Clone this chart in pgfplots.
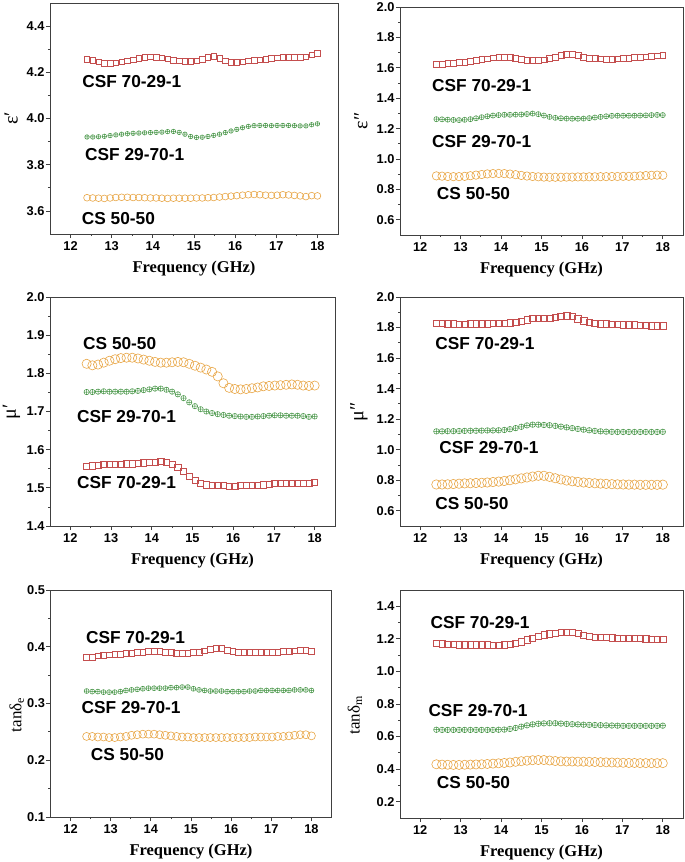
\documentclass[border=0pt]{standalone}
\usepackage{fontspec}
\setmainfont{Liberation Sans}
\newfontfamily\timesf{Liberation Serif}
\usepackage{pgfplots}
\usepackage{pgfplotstable}
\pgfplotsset{compat=1.18}

\definecolor{cred}{RGB}{196,78,78}
\definecolor{cgreen}{RGB}{68,148,68}
\definecolor{corange}{RGB}{232,166,70}

% columns: x, CSF 70-29-1 (r), CSF 29-70-1 (g), CS 50-50 (o)
\pgfplotstableread{
x r g o
12.40 4.256 3.920 3.657
12.54 4.252 3.920 3.656
12.68 4.246 3.921 3.655
12.82 4.240 3.923 3.654
12.96 4.240 3.926 3.656
13.10 4.241 3.929 3.658
13.24 4.245 3.932 3.659
13.38 4.250 3.934 3.659
13.52 4.254 3.936 3.658
13.66 4.260 3.937 3.658
13.80 4.265 3.938 3.657
13.94 4.267 3.939 3.656
14.08 4.266 3.940 3.656
14.22 4.262 3.941 3.655
14.36 4.258 3.943 3.654
14.50 4.253 3.944 3.655
14.64 4.249 3.940 3.655
14.78 4.247 3.932 3.655
14.92 4.248 3.922 3.655
15.06 4.251 3.918 3.656
15.20 4.257 3.919 3.656
15.34 4.265 3.922 3.657
15.48 4.270 3.927 3.658
15.62 4.261 3.932 3.660
15.76 4.250 3.939 3.662
15.90 4.243 3.946 3.664
16.04 4.243 3.953 3.666
16.18 4.246 3.960 3.668
16.32 4.249 3.966 3.670
16.46 4.252 3.969 3.671
16.60 4.255 3.970 3.670
16.74 4.257 3.970 3.668
16.88 4.260 3.969 3.667
17.02 4.263 3.970 3.668
17.16 4.266 3.970 3.670
17.30 4.266 3.970 3.669
17.44 4.266 3.969 3.667
17.58 4.265 3.968 3.665
17.72 4.267 3.968 3.662
17.86 4.276 3.973 3.666
18.00 4.282 3.977 3.665
}\epsr

\pgfplotstableread{
x r g o
12.40 1.624 1.262 0.889
12.54 1.626 1.261 0.887
12.68 1.628 1.259 0.885
12.82 1.631 1.257 0.884
12.96 1.635 1.256 0.884
13.10 1.639 1.258 0.886
13.24 1.644 1.262 0.890
13.38 1.649 1.268 0.894
13.52 1.654 1.275 0.898
13.66 1.660 1.281 0.902
13.80 1.666 1.286 0.904
13.94 1.670 1.289 0.905
14.08 1.671 1.291 0.904
14.22 1.669 1.291 0.901
14.36 1.664 1.292 0.897
14.50 1.658 1.293 0.892
14.64 1.652 1.296 0.888
14.78 1.649 1.299 0.885
14.92 1.649 1.295 0.883
15.06 1.653 1.286 0.881
15.20 1.661 1.277 0.880
15.34 1.671 1.271 0.880
15.48 1.681 1.268 0.880
15.62 1.688 1.266 0.881
15.76 1.690 1.265 0.881
15.90 1.683 1.265 0.882
16.04 1.672 1.266 0.882
16.18 1.665 1.269 0.883
16.32 1.662 1.273 0.883
16.46 1.660 1.277 0.884
16.60 1.658 1.281 0.884
16.74 1.658 1.284 0.885
16.88 1.659 1.285 0.885
17.02 1.662 1.285 0.886
17.16 1.665 1.285 0.886
17.30 1.668 1.285 0.887
17.44 1.671 1.286 0.889
17.58 1.673 1.287 0.891
17.72 1.676 1.289 0.893
17.86 1.679 1.290 0.894
18.00 1.680 1.289 0.893
}\epsi

\pgfplotstableread{
x r g o
12.40 1.557 1.751 1.825
12.54 1.558 1.751 1.821
12.68 1.560 1.752 1.823
12.82 1.561 1.753 1.828
12.96 1.561 1.752 1.833
13.10 1.561 1.752 1.837
13.24 1.562 1.752 1.840
13.38 1.563 1.752 1.841
13.52 1.563 1.753 1.841
13.66 1.564 1.754 1.839
13.80 1.566 1.756 1.836
13.94 1.568 1.758 1.833
14.08 1.568 1.760 1.830
14.22 1.569 1.760 1.828
14.36 1.567 1.757 1.828
14.50 1.562 1.752 1.829
14.64 1.555 1.745 1.830
14.78 1.544 1.735 1.829
14.92 1.531 1.724 1.825
15.06 1.519 1.714 1.820
15.20 1.511 1.706 1.815
15.34 1.508 1.700 1.810
15.48 1.507 1.696 1.804
15.62 1.506 1.693 1.792
15.76 1.506 1.691 1.774
15.90 1.505 1.689 1.762
16.04 1.505 1.688 1.759
16.18 1.506 1.687 1.758
16.32 1.506 1.686 1.759
16.46 1.507 1.686 1.761
16.60 1.507 1.687 1.763
16.74 1.508 1.688 1.766
16.88 1.510 1.689 1.767
17.02 1.511 1.690 1.768
17.16 1.511 1.690 1.769
17.30 1.511 1.689 1.770
17.44 1.512 1.689 1.771
17.58 1.513 1.689 1.770
17.72 1.513 1.688 1.768
17.86 1.512 1.686 1.767
18.00 1.514 1.687 1.768
}\mur

\pgfplotstableread{
x r g o
12.40 1.829 1.120 0.772
12.54 1.828 1.120 0.772
12.68 1.826 1.121 0.773
12.82 1.824 1.121 0.775
12.96 1.823 1.122 0.777
13.10 1.823 1.123 0.779
13.24 1.824 1.124 0.780
13.38 1.825 1.124 0.782
13.52 1.826 1.125 0.783
13.66 1.826 1.126 0.785
13.80 1.827 1.126 0.788
13.94 1.828 1.127 0.791
14.08 1.829 1.129 0.795
14.22 1.831 1.134 0.800
14.36 1.836 1.141 0.806
14.50 1.843 1.150 0.812
14.64 1.852 1.159 0.818
14.78 1.859 1.164 0.824
14.92 1.862 1.164 0.829
15.06 1.862 1.162 0.829
15.20 1.862 1.160 0.822
15.34 1.866 1.156 0.813
15.48 1.873 1.151 0.805
15.62 1.877 1.146 0.798
15.76 1.873 1.141 0.793
15.90 1.858 1.136 0.789
16.04 1.844 1.131 0.785
16.18 1.835 1.127 0.782
16.32 1.829 1.123 0.780
16.46 1.826 1.120 0.778
16.60 1.824 1.118 0.776
16.74 1.822 1.117 0.774
16.88 1.820 1.116 0.773
17.02 1.819 1.116 0.772
17.16 1.818 1.116 0.771
17.30 1.817 1.116 0.771
17.44 1.815 1.116 0.770
17.58 1.814 1.116 0.770
17.72 1.813 1.116 0.770
17.86 1.812 1.116 0.770
18.00 1.811 1.117 0.771
}\mui

\pgfplotstableread{
x r g o
12.40 0.381 0.322 0.242
12.54 0.382 0.321 0.242
12.68 0.384 0.321 0.241
12.82 0.385 0.320 0.241
12.96 0.386 0.320 0.240
13.10 0.387 0.320 0.240
13.24 0.387 0.321 0.241
13.38 0.388 0.323 0.242
13.52 0.389 0.324 0.244
13.66 0.390 0.325 0.245
13.80 0.391 0.326 0.246
13.94 0.392 0.327 0.246
14.08 0.392 0.327 0.246
14.22 0.392 0.327 0.245
14.36 0.391 0.327 0.244
14.50 0.390 0.328 0.243
14.64 0.389 0.328 0.242
14.78 0.389 0.329 0.241
14.92 0.389 0.329 0.241
15.06 0.390 0.326 0.240
15.20 0.391 0.324 0.240
15.34 0.393 0.323 0.240
15.48 0.395 0.322 0.240
15.62 0.397 0.322 0.240
15.76 0.397 0.322 0.240
15.90 0.394 0.321 0.240
16.04 0.392 0.321 0.240
16.18 0.391 0.321 0.240
16.32 0.391 0.321 0.240
16.46 0.390 0.322 0.240
16.60 0.390 0.322 0.241
16.74 0.390 0.323 0.241
16.88 0.390 0.323 0.241
17.02 0.391 0.323 0.241
17.16 0.391 0.323 0.242
17.30 0.392 0.323 0.242
17.44 0.392 0.323 0.243
17.58 0.393 0.324 0.244
17.72 0.394 0.324 0.245
17.86 0.394 0.324 0.245
18.00 0.392 0.323 0.243
}\tde

\pgfplotstableread{
x r g o
12.40 1.174 0.642 0.430
12.54 1.170 0.641 0.428
12.68 1.167 0.641 0.427
12.82 1.165 0.641 0.426
12.96 1.164 0.641 0.426
13.10 1.164 0.641 0.427
13.24 1.164 0.641 0.428
13.38 1.164 0.641 0.429
13.52 1.164 0.641 0.430
13.66 1.164 0.641 0.432
13.80 1.163 0.641 0.434
13.94 1.163 0.642 0.436
14.08 1.164 0.643 0.438
14.22 1.166 0.647 0.441
14.36 1.172 0.653 0.445
14.50 1.182 0.661 0.449
14.64 1.194 0.669 0.452
14.78 1.206 0.675 0.455
14.92 1.216 0.679 0.456
15.06 1.225 0.681 0.456
15.20 1.231 0.682 0.453
15.34 1.236 0.682 0.450
15.48 1.240 0.680 0.448
15.62 1.242 0.678 0.447
15.76 1.240 0.676 0.447
15.90 1.233 0.675 0.446
16.04 1.223 0.673 0.446
16.18 1.216 0.672 0.445
16.32 1.212 0.671 0.444
16.46 1.210 0.670 0.443
16.60 1.208 0.669 0.442
16.74 1.207 0.668 0.441
16.88 1.206 0.667 0.440
17.02 1.205 0.666 0.439
17.16 1.204 0.666 0.438
17.30 1.203 0.666 0.438
17.44 1.202 0.666 0.437
17.58 1.201 0.666 0.437
17.72 1.200 0.666 0.437
17.86 1.200 0.666 0.437
18.00 1.199 0.667 0.437
}\tdm

\pgfplotsset{
  panel/.style={
    scale only axis,
    xmin=11.5, xmax=18.5,
    xtick={12,13,14,15,16,17,18},
    minor x tick num=1, minor y tick num=1,
    tick align=outside, tick pos=left,
    major tick length=4pt, minor tick length=2pt,
    axis line style={line width=0.8pt, black!75},
    tick style={line width=0.8pt, black!75},
    ticklabel style={font=\bfseries\fontsize{12.8}{14}\selectfont},
    /pgf/number format/assume math mode=true,
    yticklabel style={/pgf/number format/fixed, /pgf/number format/precision=1,
      /pgf/number format/fixed zerofill, xshift=2pt},
    xticklabel style={yshift=-0.5pt},
    xlabel={Frequency (GHz)},
    every axis x label/.style={at={(axis description cs:0.5,0)}, anchor=center,
      yshift=-35pt, font=\timesf\bfseries\fontsize{16.5}{18}\selectfont},
    every axis y label/.style={at={(axis description cs:-0.135,0.5)}, rotate=90,
      anchor=center, font=\timesf\fontsize{20}{22}\selectfont},
    clip=false,
  },
  sr/.style={only marks, mark=square, color=cred, mark size=2.9pt, mark options={line width=0.5pt}},
  sg/.style={only marks, mark=oplus, color=cgreen, mark size=2.6pt, mark options={line width=0.5pt}},
  so/.style={only marks, mark=o, color=corange, mark size=4.2pt, mark options={line width=0.6pt}},
}
\tikzset{lab/.style={anchor=west, font=\bfseries\fontsize{17.3}{19}\selectfont, inner sep=0pt}}

\begin{document}
\begin{tikzpicture}
\path[use as bounding box] (0pt,0pt) rectangle (685pt,-862pt);

% panel 1: eps'
\begin{axis}[panel, at={(50pt,-234pt)}, anchor=south west, width=288pt, height=231pt,
  ymin=3.5, ymax=4.5, ytick={3.6,3.8,4.0,4.2,4.4}, ylabel={ε′}]
\addplot[sr, mark size=2.7pt] table[x=x,y=r] {\epsr};
\addplot[sg, mark size=2.3pt] table[x=x,y=g] {\epsr};
\addplot[so, mark size=3.4pt] table[x=x,y=o] {\epsr};
\node[lab] at (axis cs:12.28,4.158) {CSF 70-29-1};
\node[lab] at (axis cs:12.35,3.846) {CSF 29-70-1};
\node[lab] at (axis cs:12.27,3.568) {CS 50-50};
\end{axis}

% panel 2: eps''
\begin{axis}[panel, at={(400pt,-235pt)}, anchor=south west, width=283pt, height=228pt,
  ymin=0.5, ymax=2.0, ytick={0.6,0.8,1.0,1.2,1.4,1.6,1.8,2.0}, ylabel={ε″},
  every axis y label/.append style={at={(axis description cs:-0.138,0.5)}}]
\addplot[sr] table[x=x,y=r] {\epsi};
\addplot[sg] table[x=x,y=g] {\epsi};
\addplot[so] table[x=x,y=o] {\epsi};
\node[lab] at (axis cs:12.29,1.482) {CSF 70-29-1};
\node[lab] at (axis cs:12.29,1.116) {CSF 29-70-1};
\node[lab] at (axis cs:12.41,0.772) {CS 50-50};
\end{axis}

% panel 3: mu'
\begin{axis}[panel, at={(50pt,-526pt)}, anchor=south west, width=285pt, height=229pt,
  ymin=1.4, ymax=2.0, ytick={1.4,1.5,1.6,1.7,1.8,1.9,2.0}, ylabel={μ′}]
\addplot[sr, mark size=3.1pt] table[x=x,y=r] {\mur};
\addplot[sg, mark size=2.7pt] table[x=x,y=g] {\mur};
\addplot[so, mark size=4.6pt] table[x=x,y=o] {\mur};
\node[lab] at (axis cs:12.31,1.877) {CS 50-50};
\node[lab] at (axis cs:12.16,1.688) {CSF 29-70-1};
\node[lab] at (axis cs:12.16,1.513) {CSF 70-29-1};
\end{axis}

% panel 4: mu''
\begin{axis}[panel, at={(400pt,-526pt)}, anchor=south west, width=283pt, height=229pt,
  ymin=0.5, ymax=2.0, ytick={0.6,0.8,1.0,1.2,1.4,1.6,1.8,2.0}, ylabel={μ″},
  every axis y label/.append style={at={(axis description cs:-0.145,0.5)}}]
\addplot[sr, mark size=3.2pt] table[x=x,y=r] {\mui};
\addplot[sg, mark size=2.8pt] table[x=x,y=g] {\mui};
\addplot[so, mark size=4.7pt] table[x=x,y=o] {\mui};
\node[lab] at (axis cs:12.37,1.697) {CSF 70-29-1};
\node[lab] at (axis cs:12.47,1.017) {CSF 29-70-1};
\node[lab] at (axis cs:12.37,0.649) {CS 50-50};
\end{axis}

% panel 5: tan delta_e
\begin{axis}[panel, at={(50.5pt,-817pt)}, anchor=south west, width=281pt, height=227pt,
  ymin=0.1, ymax=0.5, ytick={0.1,0.2,0.3,0.4,0.5}, ylabel={tanδ\textsubscript{e}},
  every axis y label/.append style={at={(axis description cs:-0.12,0.45)}, font=\timesf\fontsize{17}{19}\selectfont}]
\addplot[sr, mark size=2.9pt] table[x=x,y=r] {\tde};
\addplot[sg, mark size=2.5pt] table[x=x,y=g] {\tde};
\addplot[so, mark size=4.0pt] table[x=x,y=o] {\tde};
\node[lab] at (axis cs:12.38,0.416) {CSF 70-29-1};
\node[lab] at (axis cs:12.27,0.293) {CSF 29-70-1};
\node[lab] at (axis cs:12.50,0.210) {CS 50-50};
\end{axis}

% panel 6: tan delta_m
\begin{axis}[panel, at={(400pt,-818pt)}, anchor=south west, width=283pt, height=228pt,
  ymin=0.1, ymax=1.5, ytick={0.2,0.4,0.6,0.8,1.0,1.2,1.4}, ylabel={tanδ\textsubscript{m}},
  every axis y label/.append style={at={(axis description cs:-0.159,0.45)}, font=\timesf\fontsize{17}{19}\selectfont}]
\addplot[sr, mark size=3.1pt] table[x=x,y=r] {\tdm};
\addplot[sg, mark size=2.8pt] table[x=x,y=g] {\tdm};
\addplot[so, mark size=4.6pt] table[x=x,y=o] {\tdm};
\node[lab] at (axis cs:12.25,1.298) {CSF 70-29-1};
\node[lab] at (axis cs:12.20,0.760) {CSF 29-70-1};
\node[lab] at (axis cs:12.41,0.317) {CS 50-50};
\end{axis}
\end{tikzpicture}
\end{document}
